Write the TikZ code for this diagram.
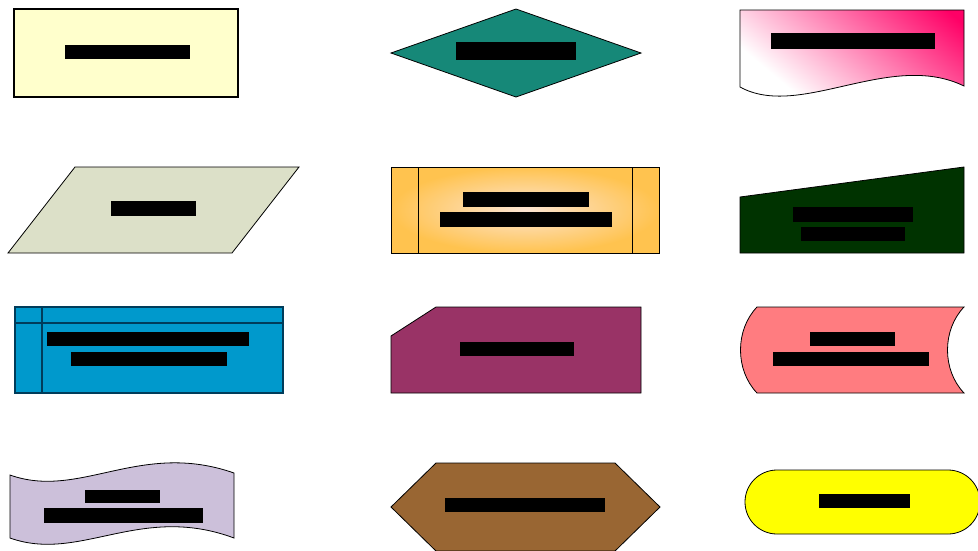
\documentclass[tikz,border=0pt]{standalone}
\usepackage{tikz}
\definecolor{procfill}{RGB}{255,255,204}
\definecolor{diafill}{RGB}{22,136,120}
\definecolor{docpink}{RGB}{255,0,102}
\definecolor{parafill}{RGB}{220,224,200}
\definecolor{preout}{RGB}{255,195,79}
\definecolor{prein}{RGB}{253,229,211}
\definecolor{manfill}{RGB}{0,51,0}
\definecolor{intfill}{RGB}{0,153,204}
\definecolor{intline}{RGB}{0,60,90}
\definecolor{cardfill}{RGB}{153,51,102}
\definecolor{storfill}{RGB}{255,124,128}
\definecolor{tapefill}{RGB}{204,192,218}
\definecolor{hexfill}{RGB}{153,102,51}
\definecolor{termfill}{RGB}{255,255,0}
\pgfdeclareverticalshading{docshade}{100bp}{color(0bp)=(white); color(38bp)=(white); color(62bp)=(docpink); color(100bp)=(docpink)}
\tikzset{
  shp/.style={draw=black, line width=0.8pt, line join=miter},
  bar/.style={fill=black},
}
\begin{document}
\begin{tikzpicture}[x=1pt,y=-1pt]
\useasboundingbox (0,0) rectangle (978,550);
% 1 process
\draw[shp, fill=procfill, line width=2pt] (14,9) rectangle (238,97);
\fill[bar] (65,45) rectangle (190,59);
% 2 decision
\draw[shp, fill=diafill] (391,53) -- (516,9) -- (641,53) -- (516,97) -- cycle;
\fill[bar] (456,42) rectangle (576,60);
% 3 document
\begin{scope}
  \clip (740,10) -- (964,10) -- (964,86) .. controls (890,50) and (800,120) .. (740,87) -- cycle;
  \shade[shading=docshade, shading angle=-40] (703,-116) rectangle (1041,221);
\end{scope}
\draw[shp] (740,10) -- (964,10) -- (964,86) .. controls (890,50) and (800,120) .. (740,87) -- cycle;
\fill[bar] (771,33) rectangle (935,49);
% 4 data (parallelogram)
\draw[shp, fill=parafill] (75,167) -- (299,167) -- (232,253) -- (8,253) -- cycle;
\fill[bar] (111,201) rectangle (196,216);
% 5 predefined process
\shade[inner color=prein, outer color=preout] (391,167) rectangle (659,253);
\draw[shp] (391,167) rectangle (659,253);
\draw[shp] (418,167) -- (418,253);
\draw[shp] (632,167) -- (632,253);
\fill[bar] (463,192) rectangle (589,207);
\fill[bar] (440,212) rectangle (612,227);
% 6 manual input
\draw[shp, fill=manfill] (740,197) -- (964,167) -- (964,253) -- (740,253) -- cycle;
\fill[bar] (793,207) rectangle (913,222);
\fill[bar] (801,227) rectangle (905,241);
% 7 internal storage
\draw[shp, draw=intline, fill=intfill, line width=1.2pt] (15,307) rectangle (283,393);
\draw[shp, draw=intline, line width=1.2pt] (42,307) -- (42,393);
\draw[shp, draw=intline, line width=1.2pt] (15,323) -- (283,323);
\fill[bar] (47,332) rectangle (249,346);
\fill[bar] (71,352) rectangle (227,366);
% 8 card
\draw[shp, fill=cardfill] (391,336) -- (436,307) -- (641,307) -- (641,393) -- (391,393) -- cycle;
\fill[bar] (460,342) rectangle (574,356);
% 9 stored data
\draw[shp, fill=storfill] (757,307) -- (964,307) .. controls (942,330) and (942,370) .. (964,393)
  -- (757,393) .. controls (735,370) and (735,330) .. (757,307) -- cycle;
\fill[bar] (810,332) rectangle (895,346);
\fill[bar] (773,352) rectangle (929,366);
% 10 punched tape
\draw[shp, fill=tapefill] (10,475) .. controls (80,500) and (140,440) .. (234,473)
  -- (234,538) .. controls (140,503) and (80,563) .. (10,538) -- cycle;
\fill[bar] (85,490) rectangle (160,503);
\fill[bar] (44,508) rectangle (203,523);
% 11 preparation
\draw[shp, fill=hexfill] (391,507) -- (436,463) -- (615,463) -- (660,507) -- (615,551) -- (436,551) -- cycle;
\fill[bar] (445,498) rectangle (605,512);
% 12 terminator
\draw[shp, fill=termfill, rounded corners=32pt] (745,470) rectangle (980,534);
\fill[bar] (819,494) rectangle (910,508);
\end{tikzpicture}
\end{document}
